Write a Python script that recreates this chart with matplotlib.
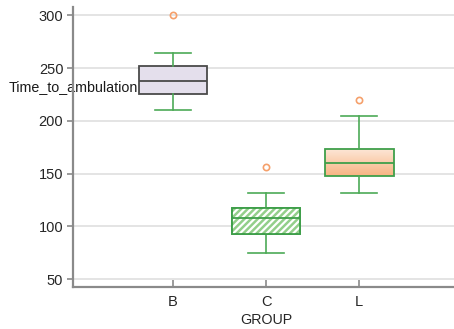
import matplotlib
matplotlib.use("Agg")
import matplotlib.pyplot as plt
import numpy as np
from matplotlib.patches import PathPatch
from matplotlib.colors import LinearSegmentedColormap

plt.rcParams['font.family'] = ['Liberation Sans', 'DejaVu Sans']

groups = ["B", "C", "L"]
whislo = [210, 75, 132]
q1 = [225, 92.5, 148]
med = [237.5, 107.5, 160]
q3 = [252, 117.5, 173]
whishi = [264.5, 132, 205]
fliers = [[300], [156.5], [220]]
yticks = [50, 100, 150, 200, 250, 300]

W, H = 454, 329
fig = plt.figure(figsize=(W / 100, H / 100), dpi=100)
ax = fig.add_axes([73 / W, 1 - 286.7 / H, (W - 73) / W, (286.7 - 7.3) / H])

stats = []
for i, g in enumerate(groups):
    stats.append(dict(label=g, whislo=whislo[i], q1=q1[i], med=med[i], q3=q3[i],
                      whishi=whishi[i], fliers=fliers[i]))

green = '#4daa57'
pos = np.arange(len(groups))
bp = ax.bxp(stats, positions=pos, widths=0.74, capwidths=0.38, patch_artist=True,
            showfliers=True, zorder=3,
            boxprops=dict(linewidth=1.3),
            whiskerprops=dict(color=green, linewidth=1.2),
            capprops=dict(color=green, linewidth=1.2),
            medianprops=dict(linewidth=1.3),
            flierprops=dict(marker='o', markerfacecolor='none', markeredgecolor='#f5a06b',
                            markersize=4.5, markeredgewidth=1.2))

# B box
bp['boxes'][0].set_facecolor('#e4dfec')
bp['boxes'][0].set_edgecolor('#4a4a4a')
bp['medians'][0].set_color('#4a4a4a')

# C box: green with white hatch
bp['boxes'][1].set_facecolor('#93cf8a')
bp['boxes'][1].set_edgecolor('#3f9f4a')
bp['medians'][1].set_color('#3f9f4a')
plt.rcParams['hatch.linewidth'] = 1.6
hp = PathPatch(bp['boxes'][1].get_path(), facecolor='none', edgecolor='white',
               hatch='/////', linewidth=0, zorder=3.05)
ax.add_patch(hp)
bp['boxes'][1].set_zorder(3.0)
edge = PathPatch(bp['boxes'][1].get_path(), facecolor='none', edgecolor='#3f9f4a',
                 linewidth=1.3, zorder=3.1)
ax.add_patch(edge)
bp['medians'][1].set_zorder(3.2)

# L box: gradient
box = bp['boxes'][2]
box.set_edgecolor('#3f9f4a')
box.set_facecolor('none')
bp['medians'][2].set_color('#3f9f4a')
verts = box.get_path().vertices
x0, x1 = verts[:, 0].min(), verts[:, 0].max()
y0, y1 = verts[:, 1].min(), verts[:, 1].max()
cmap = LinearSegmentedColormap.from_list('g', ['#f8b482', '#fde6d6'])
grad = np.linspace(0, 1, 100).reshape(-1, 1)
im = ax.imshow(grad, extent=[x0, x1, y0, y1], origin='lower', aspect='auto', cmap=cmap,
               zorder=2.9)
clip = PathPatch(box.get_path(), transform=ax.transData, facecolor='none', edgecolor='none')
ax.add_patch(clip)
im.set_clip_path(clip)

ax.set_xlim(-1.075, 3.02)
ax.set_ylim(42.7, 307.6)
ax.set_yticks(yticks)
ax.set_xticks(pos)
ax.set_xticklabels(groups)

ax.grid(axis='y', color='#dcdcdc', linewidth=1.1, zorder=0)
ax.set_axisbelow(True)
for s in ['top', 'right']:
    ax.spines[s].set_visible(False)
for s in ['left', 'bottom']:
    ax.spines[s].set_color('#8a8a8a')
    ax.spines[s].set_linewidth(1.6)
ax.tick_params(axis='y', direction='out', length=4, width=1.2, color='#8a8a8a',
               labelsize=10.5, labelcolor='#262626', pad=3)
ax.tick_params(axis='x', direction='in', length=5, width=1.2, color='#8a8a8a',
               labelsize=10.5, labelcolor='#262626', pad=6)

ax.set_ylabel('Time_to_ambulation', rotation=0, fontsize=10.3, color='#1a1a1a',
              ha='left', va='center')
ax.yaxis.set_label_coords((9 - 73) / (W - 73), (286.7 - 87) / 279.4)
ax.set_xlabel('GROUP', fontsize=10.3, color='#262626', va='center')
ax.xaxis.set_label_coords((266 - 73) / (W - 73), (286.7 - 320) / 279.4)
ax.yaxis.label.set_zorder(5)

fig.savefig('out.png', dpi=100)
